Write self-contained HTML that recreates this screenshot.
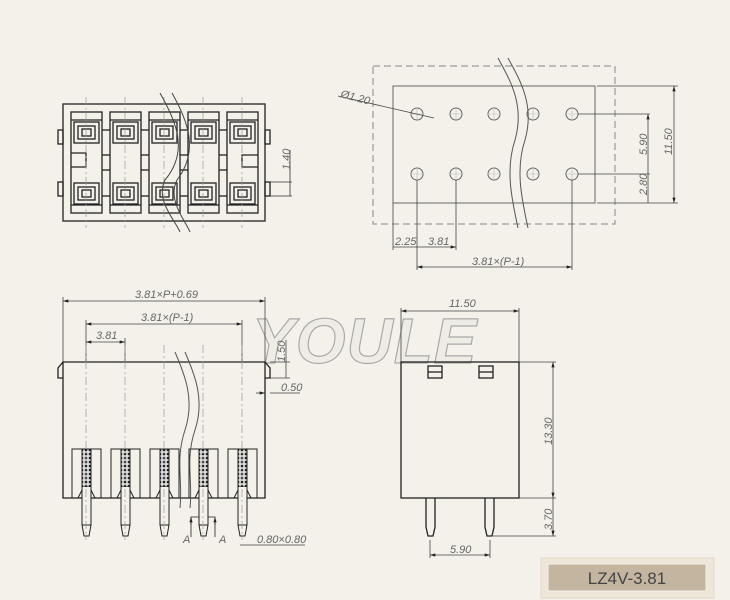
<!DOCTYPE html>
<html><head><meta charset="utf-8"><style>
html,body{margin:0;padding:0;background:#f4f1ea;}
svg{display:block}
text{font-family:"Liberation Sans",sans-serif;fill:#666;font-style:italic;}
</style></head><body>
<svg width="730" height="600" viewBox="0 0 730 600" xmlns="http://www.w3.org/2000/svg">
<defs>
<marker id="a" viewBox="0 0 10 6" refX="10" refY="3" markerWidth="7" markerHeight="4" orient="auto-start-reverse"><path d="M0,0L10,3L0,6z" fill="#222"/></marker>
<pattern id="h" width="4" height="4" patternUnits="userSpaceOnUse"><rect width="4" height="4" fill="#ddd"/><circle cx="2" cy="2" r="1.3" fill="#222"/></pattern>
</defs>
<rect width="730" height="600" fill="#f4f1ea"/>

<!-- ===== top-left view ===== -->
<g stroke="#222" fill="none" stroke-width="1.3">
<rect x="63" y="104" width="202" height="117"/>
<rect x="58" y="130" width="5" height="14"/><rect x="58" y="182" width="5" height="14"/>
<rect x="265" y="130" width="5" height="14"/><rect x="265" y="182" width="5" height="14"/>
<g id="cell">
<rect x="71" y="112" width="31" height="101"/>
<line x1="71" y1="120" x2="102" y2="120"/>
<line x1="71" y1="205" x2="102" y2="205"/>
<rect x="74" y="122" width="25" height="21"/><rect x="78" y="126" width="17" height="13"/><rect x="82" y="129" width="9" height="7"/>
<rect x="74" y="183" width="25" height="21"/><rect x="78" y="187" width="17" height="13"/><rect x="82" y="190" width="9" height="7"/>
</g>
<use href="#cell" x="39"/><use href="#cell" x="78"/><use href="#cell" x="117"/><use href="#cell" x="156"/>
<line x1="102" y1="130" x2="110" y2="130"/><line x1="141" y1="130" x2="149" y2="130"/><line x1="180" y1="130" x2="188" y2="130"/><line x1="219" y1="130" x2="227" y2="130"/>
<line x1="102" y1="196" x2="110" y2="196"/><line x1="141" y1="196" x2="149" y2="196"/><line x1="180" y1="196" x2="188" y2="196"/><line x1="219" y1="196" x2="227" y2="196"/>
<line x1="102" y1="155" x2="110" y2="155"/><line x1="102" y1="170" x2="110" y2="170"/>
<line x1="141" y1="155" x2="149" y2="155"/><line x1="141" y1="170" x2="149" y2="170"/>
<line x1="180" y1="155" x2="188" y2="155"/><line x1="180" y1="170" x2="188" y2="170"/>
<line x1="219" y1="155" x2="227" y2="155"/><line x1="219" y1="170" x2="227" y2="170"/>
<path d="M71,153H86V167H71"/><path d="M258,155H242V167H258"/>
</g>
<g stroke="#999" stroke-width="0.7" stroke-dasharray="8,3,2,3">
<line x1="86" y1="97" x2="86" y2="228"/><line x1="125" y1="97" x2="125" y2="228"/><line x1="164" y1="97" x2="164" y2="228"/><line x1="203" y1="97" x2="203" y2="228"/><line x1="242" y1="97" x2="242" y2="228"/>
</g>
<path d="M160,93C175,120 190,150 165,180C155,200 175,220 180,232" stroke="#444" fill="none"/>
<path d="M172,93C187,120 200,150 177,180C167,200 185,220 190,232" stroke="#444" fill="none"/>
<g stroke="#333" stroke-width="0.8"><line x1="270" y1="182" x2="292" y2="182"/><line x1="270" y1="196" x2="292" y2="196"/><line x1="290" y1="150" x2="290" y2="196"/></g>
<text transform="translate(290,170) rotate(-90)" font-size="11">1.40</text>

<!-- ===== hole pattern view ===== -->
<rect x="373" y="66" width="242" height="158" fill="none" stroke="#888" stroke-dasharray="7,4"/>
<rect x="393" y="86" width="202" height="117" fill="none" stroke="#666"/>
<g stroke="#666" fill="none">
<circle cx="417" cy="114" r="6"/><circle cx="456" cy="114" r="6"/><circle cx="494" cy="114" r="6"/><circle cx="533" cy="114" r="6"/><circle cx="572" cy="114" r="6"/>
<circle cx="417" cy="174" r="6"/><circle cx="456" cy="174" r="6"/><circle cx="494" cy="174" r="6"/><circle cx="533" cy="174" r="6"/><circle cx="572" cy="174" r="6"/>
</g>
<g stroke="#bbb" stroke-width="0.6">
<path d="M411,114h12M450,114h12M488,114h12M527,114h12M566,114h12M411,174h12M450,174h12M488,174h12M527,174h12M566,174h12"/>
<path d="M417,108v12M456,108v12M494,108v12M533,108v12M572,108v12M417,168v12M456,168v12M494,168v12M533,168v12M572,168v12"/>
</g>
<path d="M498,58C510,80 525,105 515,140C505,170 512,200 518,228" stroke="#555" fill="none"/>
<path d="M508,58C520,80 535,105 525,140C515,170 522,200 528,228" stroke="#555" fill="none"/>
<g stroke="#444" stroke-width="0.8" fill="none">
<line x1="338" y1="96" x2="434" y2="118"/>
<line x1="578" y1="114" x2="650" y2="114"/><line x1="578" y1="174" x2="650" y2="174"/>
<line x1="597" y1="86" x2="678" y2="86"/><line x1="597" y1="203" x2="678" y2="203"/>
<line x1="648" y1="114" x2="648" y2="203" marker-start="url(#a)"/>
<line x1="674" y1="86" x2="674" y2="203" marker-start="url(#a)" marker-end="url(#a)"/>
<line x1="393" y1="203" x2="393" y2="250"/><line x1="417" y1="180" x2="417" y2="270"/><line x1="456" y1="180" x2="456" y2="250"/><line x1="572" y1="180" x2="572" y2="270"/>
<line x1="393" y1="247" x2="456" y2="247" marker-end="url(#a)"/>
<line x1="417" y1="267" x2="572" y2="267" marker-start="url(#a)" marker-end="url(#a)"/>
</g>
<text x="340" y="97" font-size="11" transform="rotate(15 340 97)">Ø1.20</text>
<text transform="translate(647,155) rotate(-90)" font-size="11">5.90</text>
<text transform="translate(647,195) rotate(-90)" font-size="11">2.80</text>
<text transform="translate(672,155) rotate(-90)" font-size="11">11.50</text>
<text x="395" y="245" font-size="11">2.25</text><text x="428" y="245" font-size="11">3.81</text>
<text x="472" y="265" font-size="11">3.81×(P-1)</text>

<!-- watermark -->
<text x="252" y="363" font-size="64" font-weight="bold" style="font-style:italic;fill:#efece5;stroke:#aaa;stroke-width:1.2" letter-spacing="1">YOULE</text>

<!-- ===== front view ===== -->
<g stroke="#444" stroke-width="0.8" fill="none">
<line x1="63" y1="297" x2="63" y2="362"/><line x1="265" y1="297" x2="265" y2="362"/>
<line x1="63" y1="301" x2="265" y2="301" marker-start="url(#a)" marker-end="url(#a)"/>
<line x1="86" y1="320" x2="86" y2="362"/><line x1="242" y1="320" x2="242" y2="362"/>
<line x1="86" y1="324" x2="242" y2="324" marker-start="url(#a)" marker-end="url(#a)"/>
<line x1="125" y1="338" x2="125" y2="362"/>
<line x1="86" y1="342" x2="125" y2="342" marker-start="url(#a)" marker-end="url(#a)"/>
<line x1="270" y1="362" x2="290" y2="362"/><line x1="270" y1="378" x2="290" y2="378"/>
<line x1="286" y1="340" x2="286" y2="378"/>
<line x1="256" y1="393" x2="265" y2="393" marker-end="url(#a)"/><line x1="270" y1="393" x2="300" y2="393"/>
<line x1="240" y1="545" x2="305" y2="545"/>
</g>
<text x="135" y="298" font-size="11">3.81×P+0.69</text>
<text x="141" y="321" font-size="11">3.81×(P-1)</text>
<text x="96" y="339" font-size="11">3.81</text>
<text transform="translate(285,362) rotate(-90)" font-size="11">1.50</text>
<text x="281" y="391" font-size="11">0.50</text>
<text x="257" y="543" font-size="11">0.80×0.80</text>
<text x="183" y="543" font-size="11">A</text><text x="219" y="543" font-size="11">A</text>
<g stroke="#222" stroke-width="0.8" fill="none">
<path d="M191,537V517H215V537"/><line x1="191" y1="525" x2="191" y2="517" marker-end="url(#a)"/><line x1="215" y1="525" x2="215" y2="517" marker-end="url(#a)"/>
</g>
<g stroke="#222" stroke-width="1.3" fill="none">
<path d="M63,362H265V498H63Z"/>
<path d="M63,362L58,368V378H63"/><path d="M265,362L270,368V378H265"/>
</g>
<g id="slot" stroke="#222" stroke-width="1" fill="none">
<rect x="72" y="449" width="29" height="49"/>
<rect x="82" y="449" width="9" height="38" fill="url(#h)"/>
<path d="M82,487V525L84,536H89L91,525V487" fill="#f4f1ea"/>
<line x1="82" y1="525" x2="91" y2="525"/>
<path d="M78,498L82,490M95,498L91,490"/>
</g>
<use href="#slot" x="39"/><use href="#slot" x="78"/><use href="#slot" x="117"/><use href="#slot" x="156"/>
<g stroke="#999" stroke-width="0.7" stroke-dasharray="8,3,2,3">
<line x1="86" y1="345" x2="86" y2="540"/><line x1="125" y1="345" x2="125" y2="540"/><line x1="164" y1="345" x2="164" y2="540"/><line x1="203" y1="345" x2="203" y2="540"/><line x1="242" y1="345" x2="242" y2="540"/>
</g>
<path d="M175,352C185,375 195,400 185,430C175,460 183,480 180,508" stroke="#555" fill="none"/>
<path d="M185,352C195,375 205,400 195,430C185,460 193,480 190,508" stroke="#555" fill="none"/>

<!-- ===== side view ===== -->
<g stroke="#444" stroke-width="0.8" fill="none">
<line x1="401" y1="308" x2="401" y2="362"/><line x1="519" y1="308" x2="519" y2="362"/>
<line x1="401" y1="311" x2="519" y2="311" marker-start="url(#a)" marker-end="url(#a)"/>
<line x1="519" y1="362" x2="556" y2="362"/><line x1="519" y1="498" x2="556" y2="498"/><line x1="493" y1="536" x2="556" y2="536"/>
<line x1="553" y1="362" x2="553" y2="498" marker-start="url(#a)" marker-end="url(#a)"/>
<line x1="553" y1="498" x2="553" y2="536" marker-end="url(#a)"/>
<line x1="430" y1="540" x2="430" y2="558"/><line x1="490" y1="540" x2="490" y2="558"/>
<line x1="430" y1="555" x2="490" y2="555" marker-start="url(#a)" marker-end="url(#a)"/>
</g>
<text x="449" y="307" font-size="11">11.50</text>
<text transform="translate(552,445) rotate(-90)" font-size="11">13.30</text>
<text transform="translate(552,530) rotate(-90)" font-size="11">3.70</text>
<text x="450" y="553" font-size="11">5.90</text>
<g stroke="#222" stroke-width="1.3" fill="none">
<rect x="401" y="362" width="118" height="136"/>
<rect x="428" y="366" width="14" height="12"/><line x1="428" y1="372" x2="442" y2="372"/>
<rect x="479" y="366" width="14" height="12"/><line x1="479" y1="372" x2="493" y2="372"/>
<path d="M426,498V527L428,536H433L435,527V498"/>
<path d="M485,498V527L487,536H492L494,527V498"/>
</g>

<!-- label -->
<rect x="541" y="558" width="173" height="40" fill="#eee6d8" stroke="#e0d8c8"/>
<rect x="548" y="564" width="158" height="27" fill="#c4b5a0" stroke="#f4f1ea"/>
<text x="627" y="584" font-size="17" text-anchor="middle" style="font-style:normal;fill:#444">LZ4V-3.81</text>
</svg>
</body></html>
